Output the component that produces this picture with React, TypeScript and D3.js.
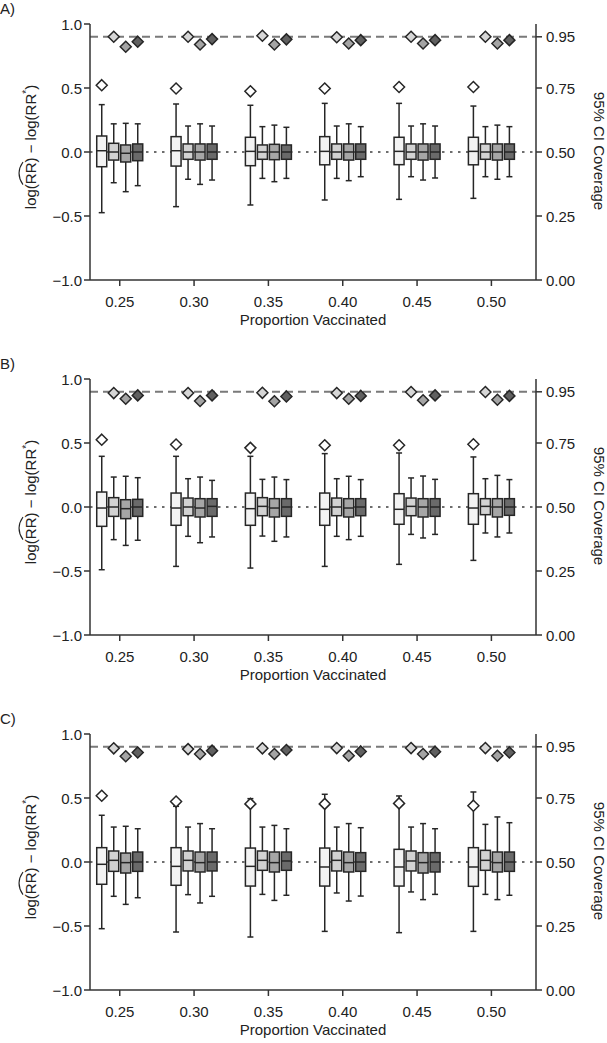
import { useEffect, useRef } from 'react';
import * as d3 from 'd3';

// proportions vaccinated (x categories)
const proportions = [0.25, 0.3, 0.35, 0.4, 0.45, 0.5];
const panelLabels = ['A)', 'B)', 'C)'];

// boxes: per method, per proportion -> [whiskerLow, q1, median, q3, whiskerHigh]
const panelABoxes = [
    [[-0.474, -0.115, 0.01, 0.125, 0.37], [-0.427, -0.11, 0.01, 0.12, 0.375], [-0.414, -0.107, 0.005, 0.115, 0.365], [-0.375, -0.1, 0.005, 0.12, 0.38], [-0.37, -0.099, 0.005, 0.115, 0.38], [-0.362, -0.1, 0.005, 0.115, 0.359]],
    [[-0.24, -0.063, 0.0, 0.068, 0.22], [-0.213, -0.057, 0.0, 0.063, 0.203], [-0.206, -0.057, 0.0, 0.055, 0.198], [-0.206, -0.057, 0.0, 0.063, 0.203], [-0.193, -0.057, 0.0, 0.063, 0.203], [-0.193, -0.057, 0.0, 0.063, 0.198]],
    [[-0.31, -0.078, -0.01, 0.055, 0.224], [-0.253, -0.063, 0.0, 0.063, 0.22], [-0.232, -0.06, 0.0, 0.06, 0.21], [-0.224, -0.063, 0.0, 0.063, 0.22], [-0.219, -0.063, 0.0, 0.063, 0.22], [-0.213, -0.063, 0.0, 0.063, 0.21]],
    [[-0.263, -0.068, 0.0, 0.063, 0.22], [-0.219, -0.057, 0.0, 0.063, 0.203], [-0.206, -0.057, 0.0, 0.055, 0.193], [-0.193, -0.057, 0.0, 0.063, 0.198], [-0.203, -0.057, 0.0, 0.063, 0.203], [-0.193, -0.057, 0.0, 0.063, 0.198]],
];
const panelBBoxes = [
    [[-0.49, -0.151, -0.008, 0.117, 0.396], [-0.464, -0.143, -0.008, 0.109, 0.396], [-0.477, -0.143, -0.013, 0.109, 0.396], [-0.464, -0.143, -0.018, 0.109, 0.417], [-0.448, -0.135, -0.018, 0.104, 0.422], [-0.417, -0.135, -0.008, 0.104, 0.391]],
    [[-0.255, -0.073, 0.0, 0.073, 0.234], [-0.229, -0.068, 0.0, 0.07, 0.221], [-0.227, -0.068, 0.005, 0.073, 0.216], [-0.229, -0.068, 0.0, 0.07, 0.221], [-0.214, -0.068, 0.005, 0.07, 0.227], [-0.203, -0.06, 0.005, 0.065, 0.221]],
    [[-0.3, -0.091, -0.013, 0.057, 0.24], [-0.279, -0.078, -0.008, 0.065, 0.234], [-0.268, -0.078, -0.008, 0.065, 0.234], [-0.255, -0.078, -0.008, 0.065, 0.24], [-0.242, -0.078, 0.0, 0.065, 0.242], [-0.234, -0.078, 0.0, 0.065, 0.247]],
    [[-0.26, -0.073, 0.0, 0.06, 0.229], [-0.234, -0.073, 0.005, 0.065, 0.208], [-0.234, -0.073, 0.0, 0.065, 0.214], [-0.229, -0.068, 0.0, 0.065, 0.214], [-0.214, -0.073, 0.0, 0.065, 0.216], [-0.203, -0.065, 0.0, 0.065, 0.214]],
];
const panelCBoxes = [
    [[-0.521, -0.174, -0.018, 0.112, 0.365], [-0.547, -0.182, -0.034, 0.112, 0.435], [-0.586, -0.188, -0.034, 0.109, 0.495], [-0.542, -0.188, -0.039, 0.109, 0.529], [-0.552, -0.188, -0.039, 0.099, 0.516], [-0.542, -0.19, -0.039, 0.112, 0.547]],
    [[-0.268, -0.073, 0.013, 0.086, 0.273], [-0.255, -0.07, 0.013, 0.086, 0.273], [-0.253, -0.065, 0.013, 0.086, 0.273], [-0.242, -0.07, 0.013, 0.086, 0.273], [-0.234, -0.07, 0.008, 0.086, 0.273], [-0.253, -0.065, 0.013, 0.091, 0.294]],
    [[-0.331, -0.086, -0.005, 0.07, 0.279], [-0.32, -0.078, -0.005, 0.078, 0.3], [-0.3, -0.078, -0.005, 0.078, 0.286], [-0.305, -0.078, -0.005, 0.078, 0.3], [-0.294, -0.086, -0.005, 0.073, 0.3], [-0.294, -0.078, -0.005, 0.078, 0.352]],
    [[-0.279, -0.073, 0.0, 0.078, 0.26], [-0.268, -0.07, 0.0, 0.078, 0.26], [-0.26, -0.065, 0.008, 0.078, 0.26], [-0.266, -0.073, 0.0, 0.073, 0.268], [-0.253, -0.078, 0.0, 0.073, 0.26], [-0.26, -0.073, 0.0, 0.078, 0.307]],
];

// 95% CI coverage: per method, per proportion
const panelACoverage = [
    [0.761, 0.748, 0.737, 0.748, 0.754, 0.754],
    [0.95, 0.95, 0.954, 0.948, 0.95, 0.95],
    [0.911, 0.92, 0.92, 0.924, 0.924, 0.924],
    [0.931, 0.941, 0.94, 0.937, 0.937, 0.937],
];
const panelBCoverage = [
    [0.763, 0.744, 0.731, 0.741, 0.741, 0.745],
    [0.945, 0.945, 0.946, 0.945, 0.949, 0.949],
    [0.923, 0.914, 0.913, 0.923, 0.917, 0.919],
    [0.936, 0.936, 0.932, 0.934, 0.936, 0.934],
];
const panelCCoverage = [
    [0.759, 0.736, 0.727, 0.727, 0.729, 0.72],
    [0.944, 0.941, 0.944, 0.945, 0.945, 0.945],
    [0.913, 0.922, 0.922, 0.915, 0.922, 0.915],
    [0.928, 0.935, 0.9375, 0.932, 0.931, 0.928],
];

const leftTicks = [-1, -0.5, 0, 0.5, 1];
const rightTicks = [0, 0.25, 0.5, 0.75, 0.95];

const boxFills = ['#f3f3f3', '#d2d2d2', '#a6a6a6', '#6a6a6a'];
const diamondFills = ['#ffffff', '#d6d6d6', '#a4a4a4', '#606060'];

const FONT = '"Liberation Sans", Arial, sans-serif';

export default function App() {
    const svgRef = useRef<SVGSVGElement>(null);

    useEffect(() => {
        if (!svgRef.current) return;
        const svg = d3.select(svgRef.current);
        svg.selectAll('*').remove();

        const width = 607;
        const height = 1043;
        const left = 90;
        const right = 536;
        const plotH = 256;
        const panelTops = [24, 379, 734];
        const boxOffsets = [-18, -6, 6, 18];
        const boxW = 10;
        const capW = 6;
        const ink = '#262626';

        svg.attr('width', width).attr('height', height).style('font-family', FONT);

        const x = d3.scaleLinear().domain([0.23, 0.53]).range([left, right]);

        const panels = [
            { boxes: panelABoxes, cov: panelACoverage },
            { boxes: panelBBoxes, cov: panelBCoverage },
            { boxes: panelCBoxes, cov: panelCCoverage },
        ];

        panels.forEach((panel, pi) => {
            const top = panelTops[pi];
            const bottom = top + plotH;
            const y = d3.scaleLinear().domain([-1, 1]).range([bottom, top]);
            const yc = d3.scaleLinear().domain([0, 1]).range([bottom, top]);
            const g = svg.append('g');

            // reference lines
            g.append('line')
                .attr('x1', left).attr('x2', right)
                .attr('y1', y(0)).attr('y2', y(0))
                .attr('stroke', '#6e6e6e').attr('stroke-width', 2)
                .attr('stroke-dasharray', '2.5,5.5');
            g.append('line')
                .attr('x1', left).attr('x2', right)
                .attr('y1', yc(0.95)).attr('y2', yc(0.95))
                .attr('stroke', '#7a7a7a').attr('stroke-width', 2)
                .attr('stroke-dasharray', '8,5');

            // boxplots
            panel.boxes.forEach((method, mi) => {
                method.forEach((s, gi) => {
                    const cx = x(proportions[gi]) + boxOffsets[mi];
                    const [lo, q1, med, q3, hi] = s;
                    const b = g.append('g').attr('stroke', ink).attr('stroke-width', 1.5);
                    b.append('line').attr('x1', cx).attr('x2', cx).attr('y1', y(hi)).attr('y2', y(q3));
                    b.append('line').attr('x1', cx).attr('x2', cx).attr('y1', y(q1)).attr('y2', y(lo));
                    b.append('line').attr('x1', cx - capW / 2).attr('x2', cx + capW / 2).attr('y1', y(hi)).attr('y2', y(hi));
                    b.append('line').attr('x1', cx - capW / 2).attr('x2', cx + capW / 2).attr('y1', y(lo)).attr('y2', y(lo));
                    b.append('rect')
                        .attr('x', cx - boxW / 2).attr('width', boxW)
                        .attr('y', y(q3)).attr('height', y(q1) - y(q3))
                        .attr('fill', boxFills[mi]);
                    b.append('line').attr('x1', cx - boxW / 2).attr('x2', cx + boxW / 2).attr('y1', y(med)).attr('y2', y(med));
                });
            });

            // coverage diamonds
            const d = 5.5;
            panel.cov.forEach((method, mi) => {
                method.forEach((c, gi) => {
                    const cx = x(proportions[gi]) + boxOffsets[mi];
                    const cy = yc(c);
                    g.append('path')
                        .attr('d', `M${cx},${cy - d}L${cx + d},${cy}L${cx},${cy + d}L${cx - d},${cy}Z`)
                        .attr('fill', diamondFills[mi])
                        .attr('stroke', ink).attr('stroke-width', 1.5);
                });
            });

            // axes
            const axisG = g.append('g').attr('stroke', '#333').attr('stroke-width', 1.5);
            axisG.append('line').attr('x1', left).attr('x2', left).attr('y1', top).attr('y2', bottom);
            axisG.append('line').attr('x1', right).attr('x2', right).attr('y1', top).attr('y2', bottom);
            axisG.append('line').attr('x1', left).attr('x2', right).attr('y1', bottom).attr('y2', bottom);

            leftTicks.forEach(t => {
                axisG.append('line').attr('x1', left - 6).attr('x2', left).attr('y1', y(t)).attr('y2', y(t));
                g.append('text')
                    .attr('x', left - 8).attr('y', y(t) + 5.5)
                    .attr('text-anchor', 'end').attr('font-size', 15).attr('fill', '#222')
                    .text(d3.format('.1f')(t).replace('-', '\u2212'));
            });
            rightTicks.forEach(t => {
                axisG.append('line').attr('x1', right).attr('x2', right + 6).attr('y1', yc(t)).attr('y2', yc(t));
                g.append('text')
                    .attr('x', right + 10).attr('y', yc(t) + 5.5)
                    .attr('font-size', 15).attr('fill', '#222')
                    .text(d3.format('.2f')(t));
            });
            proportions.forEach(p => {
                axisG.append('line').attr('x1', x(p)).attr('x2', x(p)).attr('y1', bottom).attr('y2', bottom + 6);
                g.append('text')
                    .attr('x', x(p)).attr('y', bottom + 26.5)
                    .attr('text-anchor', 'middle').attr('font-size', 15).attr('fill', '#222')
                    .text(d3.format('.2f')(p));
            });

            g.append('text')
                .attr('x', (left + right) / 2).attr('y', bottom + 44.5)
                .attr('text-anchor', 'middle').attr('font-size', 15).attr('fill', '#222')
                .text('Proportion Vaccinated');

            g.append('text')
                .attr('x', 0).attr('y', top - 10)
                .attr('font-size', 15).attr('fill', '#222')
                .text(panelLabels[pi]);

            // right axis title
            g.append('g')
                .attr('transform', `translate(598,${(top + bottom) / 2 - 1}) rotate(90)`)
                .append('text')
                .attr('y', 4.5)
                .attr('text-anchor', 'middle').attr('font-size', 15).attr('fill', '#222')
                .text('95% CI Coverage');

            // left axis title with hat over RR
            const lab = g.append('g').attr('transform', `translate(30,${(top + bottom) / 2 - 5}) rotate(-90)`);
            const txt = lab.append('text').attr('y', 6).attr('font-size', 15).attr('fill', '#222');
            txt.append('tspan').text('log(');
            txt.append('tspan').text('RR');
            txt.append('tspan').text(') \u2212 log(RR');
            txt.append('tspan').attr('dy', -6).attr('font-size', 10).text('*');
            txt.append('tspan').attr('dy', 6).text(')');
            const node = txt.node() as SVGTextElement;
            const total = node.getComputedTextLength();
            const start = -total / 2;
            txt.attr('x', start);
            const x0 = start + node.getSubStringLength(0, 4);
            const w = node.getSubStringLength(4, 2);
            lab.append('path')
                .attr('d', `M${x0 - 0.5},-7 Q${x0 + w / 2},-15 ${x0 + w + 0.5},-7`)
                .attr('fill', 'none').attr('stroke', '#222').attr('stroke-width', 1.1);
        });
    }, []);

    return (
        <div style={{ position: 'absolute', left: 0, top: 0 }}>
            <svg ref={svgRef}></svg>
        </div>
    );
}
